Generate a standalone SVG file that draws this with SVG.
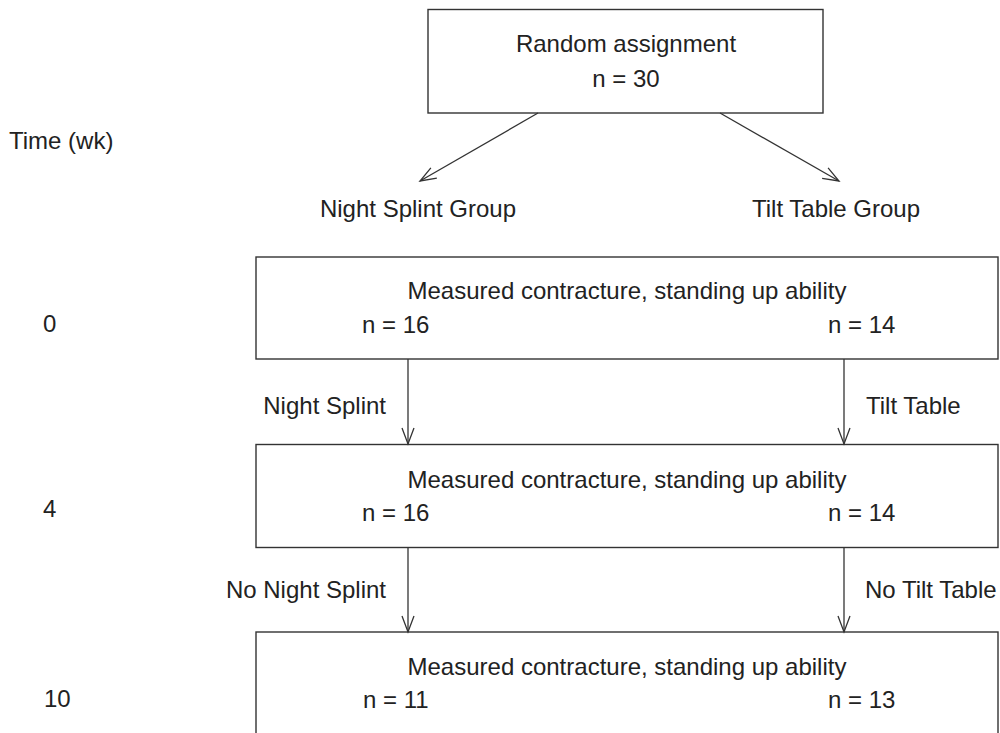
<svg xmlns="http://www.w3.org/2000/svg" width="1000" height="733" viewBox="0 0 1000 733">
<style>
text{font-family:"Liberation Sans",Arial,sans-serif;font-size:24px;fill:#222}
.box{fill:#fff;stroke:#333;stroke-width:1.4}
.c{text-anchor:middle}
.e{text-anchor:end}
.conn line{stroke:#333;stroke-width:1.3;fill:none;marker-end:url(#arr)}
</style>
<defs>
<marker id="arr" markerUnits="userSpaceOnUse" markerWidth="20" markerHeight="16" viewBox="-18 -8 20 16" refX="0" refY="0" orient="auto">
<path d="M-16,-6 L0,0 L-16,6" fill="none" stroke="#333" stroke-width="1.3"/>
</marker>
</defs>
<rect width="1000" height="733" fill="#fff"/>
<g id="time-axis">
<text x="9" y="149">Time (wk)</text>
<text x="43" y="332">0</text>
<text x="43" y="517">4</text>
<text x="44" y="707">10</text>
</g>
<g id="random">
<rect class="box" x="428" y="9.5" width="395" height="103.5"/>
<text class="c" x="626" y="52">Random assignment</text>
<text class="c" x="626" y="87">n = 30</text>
</g>
<g id="groups">
<text class="c" x="418" y="217">Night Splint Group</text>
<text class="c" x="836" y="217">Tilt Table Group</text>
</g>
<g id="week0">
<rect class="box" x="256" y="257" width="742" height="102"/>
<text class="c" x="627" y="299">Measured contracture, standing up ability</text>
<text x="362" y="333">n = 16</text>
<text x="828" y="333">n = 14</text>
</g>
<g id="week4">
<rect class="box" x="256" y="444.5" width="742" height="103"/>
<text class="c" x="627" y="488">Measured contracture, standing up ability</text>
<text x="362" y="521">n = 16</text>
<text x="828" y="521">n = 14</text>
</g>
<g id="week10">
<rect class="box" x="256" y="632" width="742" height="140"/>
<text class="c" x="627" y="675">Measured contracture, standing up ability</text>
<text x="363" y="708">n = 11</text>
<text x="828" y="708">n = 13</text>
</g>
<g id="connectors" class="conn">
<line x1="538" y1="113" x2="420" y2="181"/>
<line x1="720" y1="113" x2="839" y2="181"/>
<line x1="408" y1="359" x2="408" y2="444"/>
<line x1="844" y1="359" x2="844" y2="444"/>
<line x1="408" y1="548" x2="408" y2="632"/>
<line x1="844" y1="548" x2="844" y2="632"/>
</g>
<g id="connector-labels">
<text class="e" x="386" y="414">Night Splint</text>
<text x="866" y="414">Tilt Table</text>
<text class="e" x="386" y="598">No Night Splint</text>
<text x="865" y="598">No Tilt Table</text>
</g>
</svg>
